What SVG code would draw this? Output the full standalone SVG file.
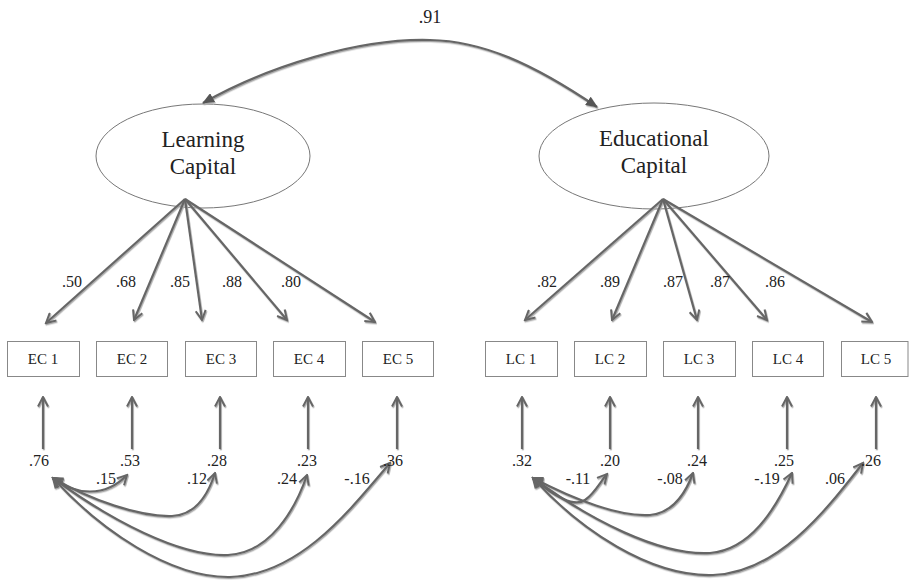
<svg xmlns="http://www.w3.org/2000/svg" width="909" height="582" viewBox="0 0 909 582">
<style>
text{font-family:"Liberation Serif","Times New Roman",serif;fill:#222;text-anchor:middle}
.lat{font-size:23px}
.box{font-size:15px}
.num{font-size:16px}
ellipse{fill:#fff;stroke:#777;stroke-width:1}
rect{fill:#fff;stroke:#888;stroke-width:1}
.c{fill:none;stroke:#666;stroke-width:2.2}
.ld{marker-end:url(#open)}
.cov{marker-start:url(#open);marker-end:url(#open)}
</style>
<defs>
<marker id="open" viewBox="0 0 12 12" refX="10.5" refY="6" markerWidth="12" markerHeight="12" markerUnits="userSpaceOnUse" orient="auto-start-reverse">
<path d="M1,1 L10.5,6 L1,11" fill="none" stroke="#666" stroke-width="2"/>
</marker>
<marker id="tri" viewBox="0 0 12 10" refX="11" refY="5" markerWidth="12" markerHeight="10" markerUnits="userSpaceOnUse" orient="auto-start-reverse">
<path d="M0,0 L12,5 L0,10 Z" fill="#555"/>
</marker>
<filter id="sh" x="-5%" y="-5%" width="110%" height="110%">
<feDropShadow dx="0.8" dy="1.3" stdDeviation="0.5" flood-color="#aaa"/>
</filter>
</defs>

<g id="LearningCapital">
<ellipse cx="203" cy="156" rx="107" ry="52"/>
<text class="lat" x="203" y="147">Learning</text>
<text class="lat" x="203" y="174">Capital</text>
</g>
<g id="EducationalCapital">
<ellipse cx="654" cy="156" rx="115" ry="53"/>
<text class="lat" x="654" y="146">Educational</text>
<text class="lat" x="654" y="173">Capital</text>
</g>

<g id="EC1"><rect x="7.5" y="341.5" width="72" height="35"/><text class="box" x="43" y="364">EC 1</text></g>
<g id="EC2"><rect x="96.5" y="341.5" width="71" height="35"/><text class="box" x="132" y="364">EC 2</text></g>
<g id="EC3"><rect x="185.5" y="341.5" width="71" height="35"/><text class="box" x="221" y="364">EC 3</text></g>
<g id="EC4"><rect x="273.5" y="341.5" width="72" height="35"/><text class="box" x="309" y="364">EC 4</text></g>
<g id="EC5"><rect x="362.5" y="341.5" width="71" height="35"/><text class="box" x="398" y="364">EC 5</text></g>

<g id="LC1"><rect x="485.5" y="341.5" width="72" height="35"/><text class="box" x="521" y="364">LC 1</text></g>
<g id="LC2"><rect x="574.5" y="341.5" width="72" height="35"/><text class="box" x="610" y="364">LC 2</text></g>
<g id="LC3"><rect x="663.5" y="341.5" width="72" height="35"/><text class="box" x="699" y="364">LC 3</text></g>
<g id="LC4"><rect x="752.5" y="341.5" width="71" height="35"/><text class="box" x="788" y="364">LC 4</text></g>
<g id="LC5"><rect x="841.5" y="341.5" width="66.5" height="35"/><text class="box" x="876" y="364">LC 5</text></g>

<g id="connectors" filter="url(#sh)">
<path class="c" d="M203,103 C268,66 360,38 430,40 C482,41 532,63 597,107" marker-start="url(#tri)" marker-end="url(#tri)"/>
<path class="c ld" d="M185,199 L46,323"/>
<path class="c ld" d="M185,199 L134,320"/>
<path class="c ld" d="M185,199 L202,320"/>
<path class="c ld" d="M185,199 L287,320"/>
<path class="c ld" d="M185,199 L375,322"/>
<path class="c ld" d="M663,199 L525,320"/>
<path class="c ld" d="M663,199 L612,320"/>
<path class="c ld" d="M663,199 L697,320"/>
<path class="c ld" d="M663,199 L767,320"/>
<path class="c ld" d="M663,199 L872,322"/>
<path class="c ld" d="M43,449 L43,397"/>
<path class="c ld" d="M132,449 L132,397"/>
<path class="c ld" d="M220,449 L220,397"/>
<path class="c ld" d="M308,449 L308,397"/>
<path class="c ld" d="M397,449 L397,397"/>
<path class="c ld" d="M522,449 L522,397"/>
<path class="c ld" d="M610,449 L610,397"/>
<path class="c ld" d="M698,449 L698,397"/>
<path class="c ld" d="M787,449 L787,397"/>
<path class="c ld" d="M876,449 L876,397"/>
<path class="c cov" d="M53,478 C75,495 105,498 127,475"/>
<path class="c cov" d="M53,478 C90,500 140,517 172,516 C195,515 208,495 215,473"/>
<path class="c cov" d="M53,478 C110,520 180,557 228,555 C270,553 295,510 307,475"/>
<path class="c cov" d="M53,478 C100,530 170,578 230,577 C300,575 350,510 390,463"/>
<path class="c cov" d="M533,478 C555,498 575,507 585,500 C595,493 600,482 607,474"/>
<path class="c cov" d="M533,478 C575,500 620,517 650,515 C672,513 685,495 693,473"/>
<path class="c cov" d="M533,478 C590,520 660,556 710,553 C750,550 775,510 792,473"/>
<path class="c cov" d="M533,478 C580,530 650,577 713,575 C780,573 830,505 863,463"/>
</g>

<g id="labels">
<text class="num" x="430" y="23" style="font-size:18px">.91</text>
<text class="num" x="72" y="287">.50</text>
<text class="num" x="126" y="287">.68</text>
<text class="num" x="180" y="287">.85</text>
<text class="num" x="232" y="287">.88</text>
<text class="num" x="291" y="287">.80</text>
<text class="num" x="547" y="287">.82</text>
<text class="num" x="610" y="287">.89</text>
<text class="num" x="673" y="287">.87</text>
<text class="num" x="720" y="287">.87</text>
<text class="num" x="775" y="287">.86</text>
<text class="num" x="39" y="466">.76</text>
<text class="num" x="130" y="466">.53</text>
<text class="num" x="217" y="466">.28</text>
<text class="num" x="307" y="466">.23</text>
<text class="num" x="393" y="466">.36</text>
<text class="num" x="522" y="466">.32</text>
<text class="num" x="610" y="466">.20</text>
<text class="num" x="697" y="466">.24</text>
<text class="num" x="784" y="466">.25</text>
<text class="num" x="871" y="466">.26</text>
<text class="num" x="106" y="484">.15</text>
<text class="num" x="197" y="484">.12</text>
<text class="num" x="287" y="484">.24</text>
<text class="num" x="357" y="484">-.16</text>
<text class="num" x="578" y="484">-.11</text>
<text class="num" x="670" y="484">-.08</text>
<text class="num" x="767" y="484">-.19</text>
<text class="num" x="835" y="484">.06</text>
</g>
</svg>
